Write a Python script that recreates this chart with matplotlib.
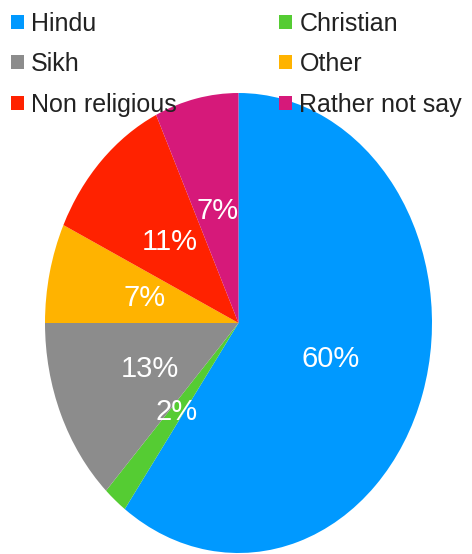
import matplotlib
matplotlib.use("Agg")
import matplotlib.pyplot as plt
from matplotlib.patches import Patch

# religion breakdown, clockwise from 12 o'clock
labels = ["Hindu", "Christian", "Sikh", "Other", "Non religious", "Rather not say"]
values = [60, 2, 13, 7, 11, 7]
colors = ["#0099FF", "#55CC33", "#8C8C8C", "#FFB300", "#FF2200", "#D6197A"]

plt.rcParams['font.family'] = ['Liberation Sans', 'DejaVu Sans']

fig = plt.figure(figsize=(4.72, 5.54), dpi=100)
ax = fig.add_axes([45/472, 1/554, 387/472, 460/554])

wedges, texts, autotexts = ax.pie(values, colors=colors, startangle=90, counterclock=False,
                                  autopct=lambda p: "%d%%" % round(p), pctdistance=0.5,
                                  radius=1, wedgeprops=dict(linewidth=0))
for t in autotexts:
    t.set_color("white")
    t.set_fontsize(21)
ax.set_xlim(-1, 1)
ax.set_ylim(-1, 1)
ax.set_aspect("auto")
ax.axis("off")

# legend filled by column, so reorder to read row by row
order = [0, 2, 4, 1, 3, 5]
handles = [Patch(facecolor=colors[i], edgecolor="none") for i in order]
fig.legend(handles, [labels[i] for i in order], ncol=2, loc="upper left",
           bbox_to_anchor=(-0.008, 1.006), frameon=False, fontsize=18,
           handlelength=0.5, handleheight=0.5, handletextpad=0.3,
           labelspacing=0.66, columnspacing=4.1, borderaxespad=0.2,
           labelcolor="#222222")

fig.savefig("out.png", dpi=100)
